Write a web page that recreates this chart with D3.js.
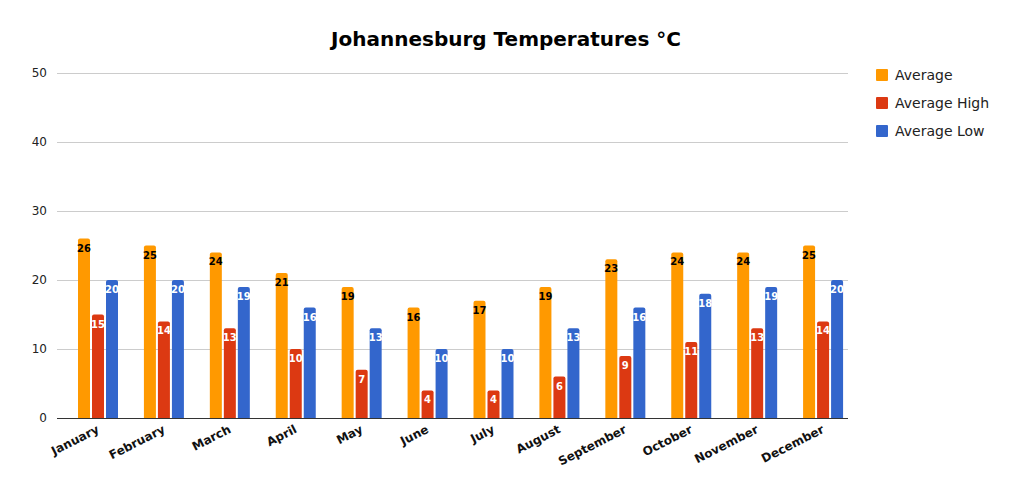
<!DOCTYPE html>
<html lang="en">
<head>
<meta charset="utf-8">
<title>Johannesburg Temperatures</title>
<script src="https://cdn.jsdelivr.net/npm/d3@7"></script>
<style>
  body { margin: 0; background: #fff; }
  text { font-family: "DejaVu Sans", sans-serif; }
</style>
</head>
<body>
<script>
// data
var months = ["January", "February", "March", "April", "May", "June",
              "July", "August", "September", "October", "November", "December"];
var seriesNames = ["Average", "Average High", "Average Low"];
var average = [26, 25, 24, 21, 19, 16, 17, 19, 23, 24, 24, 25];
var averageHigh = [15, 14, 13, 10, 7, 4, 4, 6, 9, 11, 13, 14];
var averageLow = [20, 20, 19, 16, 13, 10, 10, 13, 16, 18, 19, 20];
var yTicks = [0, 10, 20, 30, 40, 50];

var colors = ["#ff9900", "#dc3912", "#3366cc"];
var labelColors = ["#000", "#fff", "#fff"];
var allSeries = [average, averageHigh, averageLow];

var w = 1013, h = 491;
var plotLeft = 57, plotRight = 848, plotTop = 73, plotBottom = 418;

var svg = d3.select("body").append("svg").attr("width", w).attr("height", h);

var x = d3.scaleBand().domain(months).range([plotLeft, plotRight]);
var y = d3.scaleLinear().domain([0, 50]).range([plotBottom, plotTop]);

// gridlines and y labels
svg.selectAll(".grid").data(yTicks).enter().append("line")
   .attr("x1", plotLeft).attr("x2", plotRight)
   .attr("y1", function(d) { return y(d) + 0.5; })
   .attr("y2", function(d) { return y(d) + 0.5; })
   .attr("stroke", function(d) { return d === 0 ? "#333" : "#ccc"; })
   .attr("stroke-width", 1);

svg.selectAll(".ylab").data(yTicks).enter().append("text")
   .attr("x", 47).attr("y", function(d) { return y(d) + 4; })
   .attr("text-anchor", "end").attr("font-size", 12).attr("fill", "#222")
   .text(function(d) { return d; });

// bars
var barW = 12, gap = 2, offset = 21;
allSeries.forEach(function(vals, s) {
  var g = svg.append("g");
  g.selectAll("path").data(vals).enter().append("path")
   .attr("d", function(d, i) {
     var x0 = x(months[i]) + offset + s * (barW + gap), y0 = y(d), r = 2;
     return "M" + x0 + "," + plotBottom + "V" + (y0 + r) +
            "Q" + x0 + "," + y0 + " " + (x0 + r) + "," + y0 +
            "H" + (x0 + barW - r) +
            "Q" + (x0 + barW) + "," + y0 + " " + (x0 + barW) + "," + (y0 + r) +
            "V" + plotBottom + "Z";
   })
   .attr("fill", colors[s]);
  g.selectAll("text").data(vals).enter().append("text")
   .attr("x", function(d, i) { return x(months[i]) + offset + s * (barW + gap) + barW / 2; })
   .attr("y", function(d) { return y(d) + 13; })
   .attr("text-anchor", "middle").attr("font-size", 10).attr("font-weight", "bold")
   .attr("fill", labelColors[s])
   .text(function(d) { return d; });
});

// x labels
svg.selectAll(".xlab").data(months).enter().append("text")
   .attr("transform", function(d) {
     return "translate(" + (x(d) + offset + 22) + "," + 432 + ") rotate(-27)";
   })
   .attr("text-anchor", "end").attr("font-size", 12).attr("font-weight", "bold")
   .attr("fill", "#111")
   .text(function(d) { return d; });

// title
svg.append("text").attr("x", 506).attr("y", 46).attr("text-anchor", "middle")
   .attr("font-size", 20).attr("font-weight", "bold").attr("fill", "#000")
   .text("Johannesburg Temperatures °C");

// legend
var leg = svg.selectAll(".leg").data(seriesNames).enter().append("g")
   .attr("transform", function(d, i) { return "translate(876," + (69 + i * 28) + ")"; });
leg.append("rect").attr("width", 12).attr("height", 12).attr("rx", 1)
   .attr("fill", function(d, i) { return colors[i]; });
leg.append("text").attr("x", 19).attr("y", 11).attr("font-size", 14).attr("fill", "#222")
   .text(function(d) { return d; });
</script>
</body>
</html>
